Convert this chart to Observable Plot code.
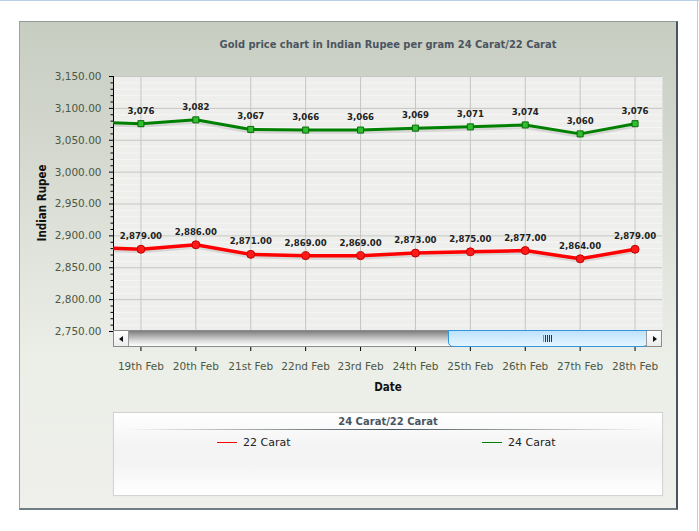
<!DOCTYPE html>
<html>
<head>
<meta charset="utf-8">
<script src="https://cdn.jsdelivr.net/npm/d3@7"></script>
<script src="https://cdn.jsdelivr.net/npm/@observablehq/plot@0.6"></script>
<style>
  html, body { margin: 0; padding: 0; background: #ffffff; }
  #page { position: relative; width: 699px; height: 531px; overflow: hidden; font-family: "DejaVu Sans", Verdana, sans-serif; }
  .abs { position: absolute; }
  #topline { left: 0; top: 0; width: 699px; height: 1px; background: #b9cfe8; }
  #rightline { left: 697px; top: 0; width: 1px; height: 531px; background: #b9cfe8; }
  #panel { left: 19px; top: 21px; width: 659px; height: 489px; box-sizing: border-box;
    border-left: 1px solid #9aa4a2; border-top: 1px solid #8f9a98;
    border-right: 2px solid #48545e; border-bottom: 2px solid #6f7c84;
    background: linear-gradient(to bottom, #c8cdc2 0%, #d3d7cd 25%, #e2e5dd 50%, #eceee8 70%, #eff0ec 100%); }
  #chart { left: 0; top: 0; }
  #title { left: 19px; width: 738px; top: 38px; text-align: center; font: bold 11px "DejaVu Sans Condensed", "DejaVu Sans", sans-serif; color: #4a5560; }
  #ylabel { left: 42px; top: 203px; transform: translate(-50%, -50%) rotate(-90deg); white-space: nowrap; font: bold 11.5px "DejaVu Sans Condensed", "DejaVu Sans", sans-serif; color: #111; }
  #xlabel { left: 388px; top: 387px; transform: translate(-50%, -50%); font: bold 11.5px "DejaVu Sans Condensed", "DejaVu Sans", sans-serif; color: #111; }
  #scroll { left: 113px; top: 330px; width: 549px; height: 17px; box-sizing: border-box; border: 1px solid #8a8a8a;
    background: linear-gradient(to bottom, #7e7e7e 0%, #a9a9a9 30%, #dcdcdc 65%, #ffffff 100%); }
  .btn { top: 0; width: 15px; height: 15px; box-sizing: border-box; background: linear-gradient(to bottom, #ffffff, #ececec); }
  #btnL { left: 0; border-right: 1px solid #9a9a9a; }
  #btnR { right: 0; border-left: 1px solid #9a9a9a; }
  .tri { position: absolute; top: 5px; width: 0; height: 0; border-top: 3px solid transparent; border-bottom: 3px solid transparent; }
  #btnL .tri { left: 5px; border-right: 4px solid #111; }
  #btnR .tri { left: 6px; border-left: 4px solid #111; }
  #thumb { left: 334px; top: -1px; width: 200px; height: 17px; box-sizing: border-box; border: 1px solid #2f96e0;
    border-radius: 0 0 5px 5px; background: linear-gradient(to bottom, #bde2fb, #d6eefe 60%, #e4f4ff); }
  #grip { left: 50%; top: 4px; width: 9px; height: 7px; transform: translateX(-50%);
    background: repeating-linear-gradient(to right, #333 0, #333 1px, transparent 1px, transparent 2px); }
  #legend { left: 113px; top: 412px; width: 550px; height: 84px; box-sizing: border-box; border: 1px solid #d2d4d2;
    background: linear-gradient(to bottom, #ffffff 0%, #f4f4f4 40%, #f3f3f3 60%, #ffffff 100%); box-shadow: 0 0 1px rgba(0,0,0,0.08); }
  #legtitle { left: 0; width: 548px; top: 3px; text-align: center; font: bold 10px "DejaVu Sans", sans-serif; color: #4a5560; }
  #legsep { left: 12px; width: 524px; top: 16px; height: 1px;
    background: linear-gradient(to right, rgba(90,100,100,0), #8e9696 30%, #46505a 50%, #8e9696 70%, rgba(90,100,100,0)); }
  .item { top: 23px; font: 11px "DejaVu Sans", sans-serif; color: #222; white-space: nowrap; }
  .swatch { display: inline-block; width: 20px; height: 0; border-top: 1.5px solid; vertical-align: middle; margin-right: 6px; position: relative; top: -1px; }
</style>
</head>
<body>
<div id="page">
  <div id="topline" class="abs"></div>
  <div id="rightline" class="abs"></div>
  <div id="panel" class="abs"></div>
  <div id="chart" class="abs"></div>
  <div id="title" class="abs"></div>
  <div id="ylabel" class="abs"></div>
  <div id="xlabel" class="abs"></div>
  <div id="scroll" class="abs">
    <div id="btnL" class="abs btn"><div class="tri"></div></div>
    <div id="thumb" class="abs"><div id="grip" class="abs"></div></div>
    <div id="btnR" class="abs btn"><div class="tri"></div></div>
  </div>
  <div id="legend" class="abs">
    <div id="legtitle" class="abs"></div>
    <div id="legsep" class="abs"></div>
    <div id="leg22" class="abs item"></div>
    <div id="leg24" class="abs item"></div>
  </div>
</div>
<script>
// ---- data ----
const titleText = "Gold price chart in Indian Rupee per gram 24 Carat/22 Carat";
const yAxisTitle = "Indian Rupee";
const xAxisTitle = "Date";
const legendTitle = "24 Carat/22 Carat";
const seriesNames = ["22 Carat", "24 Carat"];
const seriesColors = ["#ff0000", "#008000"];
const dates = ["19th Feb", "20th Feb", "21st Feb", "22nd Feb", "23rd Feb", "24th Feb", "25th Feb", "26th Feb", "27th Feb", "28th Feb"];
const carat22 = [2879, 2886, 2871, 2869, 2869, 2873, 2875, 2877, 2864, 2879];
const carat24 = [3076, 3082, 3067, 3066, 3066, 3069, 3071, 3074, 3060, 3076];
// previous day (scrolled out of view, only the line stub at the left edge is visible)
const prev22 = 2882;
const prev24 = 3079;
const yTicks = [2750, 2800, 2850, 2900, 2950, 3000, 3050, 3100, 3150];
const yMinorStep = 10;

// ---- text ----
document.getElementById("title").textContent = titleText;
document.getElementById("ylabel").textContent = yAxisTitle;
document.getElementById("xlabel").textContent = xAxisTitle;
document.getElementById("legtitle").textContent = legendTitle;
function legItem(id, name, color, left) {
  const el = document.getElementById(id);
  el.style.left = left + "px";
  const sw = document.createElement("span");
  sw.className = "swatch"; sw.style.borderTopColor = color;
  el.appendChild(sw);
  el.appendChild(document.createTextNode(name));
}
legItem("leg22", seriesNames[0], seriesColors[0], 103);
legItem("leg24", seriesNames[1], seriesColors[1], 368);

// ---- rows ----
const idx = dates.map((d, i) => i);
const rows22 = [{i: -1, v: prev22}, ...carat22.map((v, i) => ({i, v}))];
const rows24 = [{i: -1, v: prev24}, ...carat24.map((v, i) => ({i, v}))];
const pts22 = carat22.map((v, i) => ({i, v}));
const pts24 = carat24.map((v, i) => ({i, v}));
const yMin = yTicks[0], yMax = yTicks[yTicks.length - 1];
const minor = d3.range(yMin, yMax + 1, yMinorStep).filter(v => !yTicks.includes(v));
const labelFont = "DejaVu Sans Condensed, DejaVu Sans, sans-serif";

const chart = Plot.plot({
  width: 699,
  height: 531,
  marginLeft: 113,
  marginRight: 37,
  marginTop: 76,
  marginBottom: 185,
  style: {background: "transparent", fontFamily: "DejaVu Sans, sans-serif", fontSize: "10px", overflow: "visible"},
  x: {type: "linear", domain: [-0.5, dates.length - 0.5]},
  y: {domain: [yMin, yMax], range: [331, 76]},
  marks: [
    Plot.frame({fill: "#eeefec", stroke: "none"}),
    Plot.ruleY(minor, {stroke: "#f6f6f4", strokeWidth: 1}),
    Plot.ruleY(yTicks, {stroke: "#c5c6c3", strokeWidth: 1}),
    Plot.ruleX(idx, {y1: yMin, y2: yMax, stroke: "#c5c6c3", strokeWidth: 1}),
    Plot.ruleX([-0.5], {y1: yMin, y2: yMax, stroke: "#000", strokeWidth: 1}),
    Plot.axisY({ticks: yTicks, tickSize: 4, tickPadding: 8, tickFormat: d3.format(",.2f"), stroke: "#000", fill: "#4b5844", fontSize: 10.5, label: null}),
    Plot.axisY({ticks: minor, tickSize: 2.5, tickFormat: () => "", stroke: "#000", label: null}),
    Plot.axisX({ticks: idx, tickSize: 5, tickPadding: 11, tickFormat: i => dates[i], stroke: "#000", fill: "#4b5844", fontSize: 10.5, label: null}),
    // line shadows
    Plot.line(rows24, {x: "i", y: "v", stroke: "#000", strokeOpacity: 0.1, strokeWidth: 4, dy: 2, clip: true}),
    Plot.line(rows22, {x: "i", y: "v", stroke: "#000", strokeOpacity: 0.1, strokeWidth: 4, dy: 2, clip: true}),
    Plot.line(rows24, {x: "i", y: "v", stroke: seriesColors[1], strokeWidth: 3, clip: true}),
    Plot.line(rows22, {x: "i", y: "v", stroke: seriesColors[0], strokeWidth: 3.5, clip: true}),
    Plot.dot(pts24, {x: "i", y: "v", symbol: "square", r: 3.4, fill: "#2fbf2f", stroke: "#0a6a0a", strokeWidth: 1}),
    Plot.dot(pts22, {x: "i", y: "v", symbol: "circle", r: 4, fill: "#ff1a1a", stroke: "#c00000", strokeWidth: 1}),
    Plot.text(pts24, {x: "i", y: "v", text: d => d3.format(",")(d.v), dy: -13, fontSize: 9.5, fontWeight: "bold", fill: "#222", fontFamily: labelFont}),
    Plot.text(pts22, {x: "i", y: "v", text: d => d3.format(",.2f")(d.v), dy: -13, fontSize: 9.5, fontWeight: "bold", fill: "#222", fontFamily: labelFont})
  ]
});
document.getElementById("chart").appendChild(chart);
</script>
</body>
</html>
